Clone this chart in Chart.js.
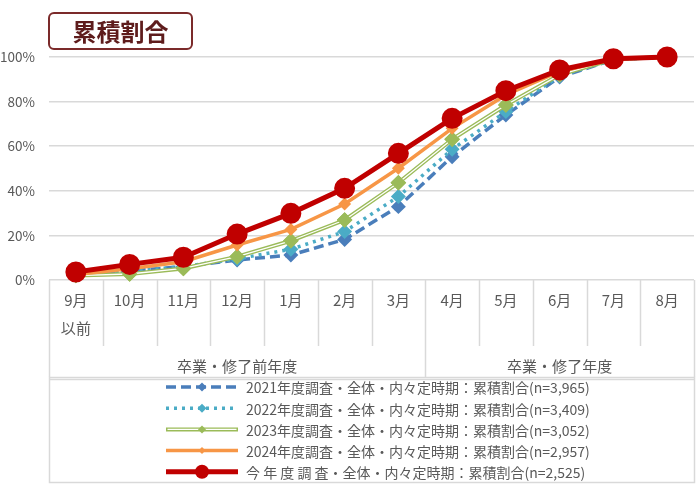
<!DOCTYPE html>
<html>
<head>
<meta charset="utf-8">
<script src="https://cdn.jsdelivr.net/npm/chart.js@4.4.1/dist/chart.umd.min.js"></script>
<style>
  html, body { margin: 0; padding: 0; background: #fff; overflow: hidden; }
  #wrap { position: relative; width: 700px; height: 490px; }
  #myChart { display: block; }
  #title {
    position: absolute; left: 48px; top: 12px; width: 141px; height: 34px;
    border: 2px solid #7b2a2a; border-radius: 6px; background: #fff;
    font-family: "Noto Sans CJK JP", sans-serif; font-weight: bold; font-size: 24px;
    color: #5e1c1c; text-align: center; line-height: 34px; z-index: 2;
  }
</style>
</head>
<body>
<div id="wrap">
  <div id="title">累積割合</div>
  <canvas id="myChart" width="700" height="490"></canvas>
</div>
<script>
const FONT = '"Noto Sans CJK JP", "Noto Sans", sans-serif';
const GRAY = '#595959';
const LINE = '#d9d9d9';

// データ
const months = [['9月', '以前'], '10月', '11月', '12月', '1月', '2月', '3月', '4月', '5月', '6月', '7月', '8月'];
const groups = ['卒業・修了前年度', '卒業・修了年度'];
const groupSizes = [7, 5];
const yTicks = [0, 20, 40, 60, 80, 100];

const y2021 = [2, 4, 6, 9, 11.2, 18.2, 32.9, 55.3, 74, 91, 98.8, 100];
const y2022 = [2, 4, 6, 9.5, 13.8, 21.7, 37.4, 58.6, 75.5, 91.5, 98.8, 100];
const y2023 = [2, 2.7, 5.2, 10.5, 17.6, 26.9, 43.6, 63.1, 78.5, 92, 99, 100];
const y2024 = [2.5, 5, 8.2, 15.7, 22.7, 34.1, 50.1, 68, 83, 93.5, 99, 100];
const yNow = [3.6, 7.0, 10.2, 20.6, 29.9, 41.1, 56.8, 72.5, 84.9, 94.2, 99.2, 100];

const legendLabels = [
    '2021年度調査・全体・内々定時期：累積割合(n=3,965)',
    '2022年度調査・全体・内々定時期：累積割合(n=3,409)',
    '2023年度調査・全体・内々定時期：累積割合(n=3,052)',
    '2024年度調査・全体・内々定時期：累積割合(n=2,957)',
    '今 年 度 調 査・全体・内々定時期：累積割合(n=2,525)'
];

const GREEN_IDX = 2;

// 2023年度の二重線（白い芯）
const doubleLine = {
    id: 'doubleLine',
    afterDatasetDraw(chart, args) {
        if (args.index !== GREEN_IDX) return;
        const ctx = chart.ctx;
        const pts = args.meta.data;
        ctx.save();
        ctx.strokeStyle = '#fff';
        ctx.lineWidth = 1.3;
        ctx.lineJoin = 'round';
        ctx.beginPath();
        pts.forEach((p, i) => { if (i === 0) ctx.moveTo(p.x, p.y); else ctx.lineTo(p.x, p.y); });
        ctx.stroke();
        ctx.restore();
        pts.forEach(p => p.draw(ctx, chart.chartArea));
    }
};

// 月の区切り線・年度グループ・凡例
const axisBox = {
    id: 'axisBox',
    afterDraw(chart) {
        const ctx = chart.ctx;
        const x = chart.scales.x;
        const area = chart.chartArea;
        const bottom = area.bottom;
        const step = (x.getPixelForValue(1) - x.getPixelForValue(0));
        const boundary = i => x.getPixelForValue(i) - step / 2;
        const groupBottom = bottom + 97;
        ctx.save();
        ctx.strokeStyle = LINE;
        ctx.lineWidth = 1.5;
        // 区切り線
        let gEdges = [0];
        let acc = 0;
        groupSizes.forEach(s => { acc += s; gEdges.push(acc); });
        for (let i = 0; i <= months.length; i++) {
            const bx = Math.round(boundary(i)) + 0.5;
            const isGroup = gEdges.includes(i);
            ctx.beginPath();
            ctx.moveTo(bx, bottom);
            ctx.lineTo(bx, isGroup ? groupBottom : bottom + 66);
            ctx.stroke();
        }
        // 凡例枠
        const lx0 = boundary(0), lx1 = boundary(months.length);
        ctx.strokeRect(Math.round(lx0) + 0.5, groupBottom + 0.5, Math.round(lx1 - lx0), 105);
        ctx.beginPath();
        ctx.moveTo(lx0, groupBottom + 2.5);
        ctx.lineTo(lx1, groupBottom + 2.5);
        ctx.stroke();
        // 年度グループのラベル
        ctx.fillStyle = GRAY;
        ctx.font = '15px ' + FONT;
        ctx.textAlign = 'center';
        ctx.textBaseline = 'middle';
        groups.forEach((g, k) => {
            const cx = (boundary(gEdges[k]) + boundary(gEdges[k + 1])) / 2;
            ctx.fillText(g, cx, bottom + 86);
        });
        // 凡例
        const ds = chart.data.datasets;
        const sx0 = 166, sx1 = 238, tx = 246;
        ctx.textAlign = 'left';
        ctx.font = '14px ' + FONT;
        legendLabels.forEach((txt, i) => {
            const d = ds[i];
            const ly = groupBottom + 10 + i * 21.2;
            ctx.save();
            ctx.strokeStyle = d.borderColor;
            ctx.lineWidth = d.borderWidth;
            ctx.setLineDash(d.borderDash || []);
            ctx.lineCap = d.borderCapStyle || 'butt';
            ctx.beginPath();
            ctx.moveTo(sx0, ly);
            ctx.lineTo(sx1, ly);
            ctx.stroke();
            if (i === GREEN_IDX) {
                ctx.strokeStyle = '#fff';
                ctx.lineWidth = 1.3;
                ctx.beginPath();
                ctx.moveTo(sx0 + 1.5, ly);
                ctx.lineTo(sx1 - 1.5, ly);
                ctx.stroke();
            }
            ctx.setLineDash([]);
            const mx = (sx0 + sx1) / 2;
            const r = d.legendRadius;
            ctx.fillStyle = d.pointBackgroundColor;
            ctx.beginPath();
            if (d.pointStyle === 'circle') {
                ctx.arc(mx, ly, r, 0, Math.PI * 2);
            } else {
                ctx.moveTo(mx, ly - r); ctx.lineTo(mx + r, ly); ctx.lineTo(mx, ly + r); ctx.lineTo(mx - r, ly);
                ctx.closePath();
            }
            ctx.fill();
            ctx.restore();
            ctx.fillStyle = GRAY;
            ctx.fillText(txt, tx, ly + 1);
        });
        ctx.restore();
    }
};

const ctx = document.getElementById('myChart').getContext('2d');
const myChart = new Chart(ctx, {
    type: 'line',
    data: {
        labels: months,
        datasets: [
            {
                data: y2021, borderColor: '#4a7ebb', pointBackgroundColor: '#4a7ebb', pointBorderColor: '#4a7ebb',
                borderWidth: 3.5, borderDash: [10, 5], pointStyle: 'rectRot', pointRadius: 5, legendRadius: 4.5, order: 5
            },
            {
                data: y2022, borderColor: '#4bacc6', pointBackgroundColor: '#4bacc6', pointBorderColor: '#4bacc6',
                borderWidth: 3.5, borderDash: [3, 5], pointStyle: 'rectRot', pointRadius: 5, legendRadius: 4.5, order: 4
            },
            {
                data: y2023, borderColor: '#9bbb59', pointBackgroundColor: '#9bbb59', pointBorderColor: '#9bbb59',
                borderWidth: 4, pointStyle: 'rectRot', pointRadius: 5, legendRadius: 4, order: 3
            },
            {
                data: y2024, borderColor: '#f79646', pointBackgroundColor: '#f79646', pointBorderColor: '#f79646',
                borderWidth: 3.5, pointStyle: 'rectRot', pointRadius: 4, legendRadius: 3.5, order: 2
            },
            {
                data: yNow, borderColor: '#c00000', pointBackgroundColor: '#c00000', pointBorderColor: '#c00000',
                borderWidth: 5, pointStyle: 'circle', pointRadius: 8, legendRadius: 7, order: 1
            }
        ]
    },
    options: {
        responsive: false,
        animation: false,
        layout: { autoPadding: false, padding: { top: 57, right: 6, bottom: 113, left: 0 } },
        plugins: { legend: { display: false }, tooltip: { enabled: false } },
        datasets: { line: { clip: false } },
        elements: { line: { tension: 0 }, point: { borderWidth: 0 } },
        scales: {
            x: {
                offset: true,
                grid: { display: false, drawTicks: false },
                border: { display: false },
                ticks: {
                    color: GRAY, padding: 6, maxRotation: 0, autoSkip: false,
                    font: { family: FONT, size: 15, lineHeight: 1.9 }
                },
                afterFit(scale) {
                    scale.height = 97;
                    scale.paddingLeft = 0;
                    scale.paddingRight = 0;
                }
            },
            y: {
                min: 0, max: 100,
                afterBuildTicks(scale) { scale.ticks = yTicks.map(v => ({ value: v })); },
                grid: { color: LINE, lineWidth: 1.5, drawTicks: false },
                border: { display: false },
                ticks: {
                    color: GRAY, padding: 14, font: { family: FONT, size: 13.5 },
                    callback: v => v + '%'
                },
                afterFit(scale) { scale.width = 49; }
            }
        }
    },
    plugins: [doubleLine, axisBox]
});
</script>
</body>
</html>
